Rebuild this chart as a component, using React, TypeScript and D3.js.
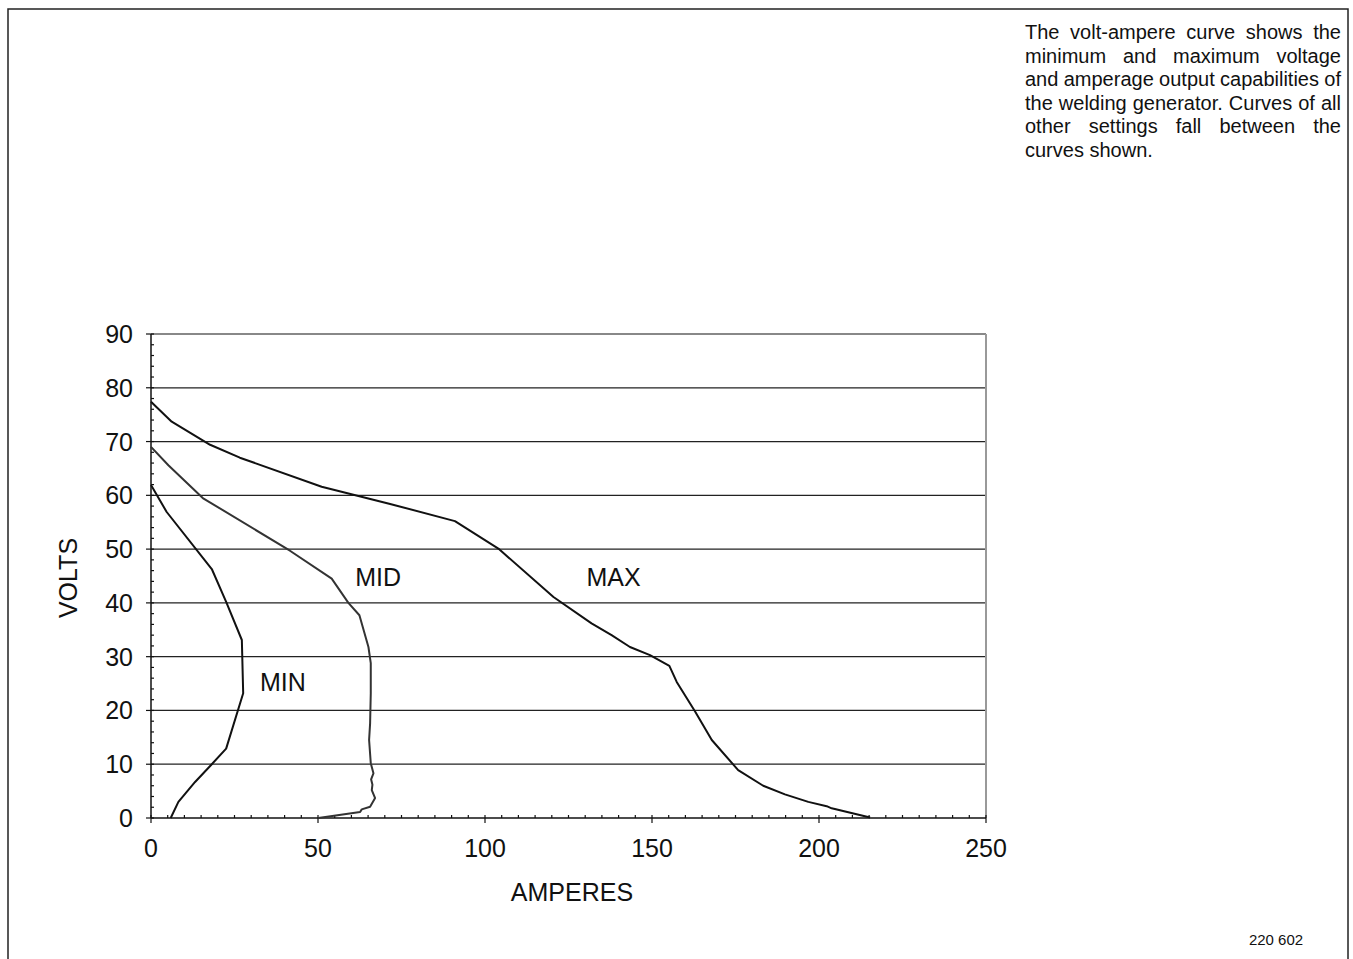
import React, { useMemo } from "react";
import * as d3 from "d3";

type Pt = [number, number];

const maxCurve: Pt[] = [
  [0, 77.4], [6.2, 73.7], [17.7, 69.4], [26.6, 67.0], [51.1, 61.6], [71.6, 58.4],
  [91.0, 55.2], [104.0, 50.1], [120.5, 41.1], [131.9, 36.2], [137.9, 34.0],
  [143.4, 31.8], [149.4, 30.3], [155.2, 28.3], [157.4, 25.3], [162.9, 19.8],
  [167.9, 14.5], [175.8, 8.9], [183.3, 6.0], [189.8, 4.4], [196.8, 3.0],
  [202.3, 2.2], [203.8, 1.8], [215.3, 0.1],
];

const midCurve: Pt[] = [
  [0, 69.0], [5.2, 65.6], [15.5, 59.5], [41.6, 49.7], [54.1, 44.5], [59.1, 40.0],
  [62.4, 37.7], [65.1, 31.8], [65.8, 28.8], [65.8, 23.2], [65.6, 17.6],
  [65.3, 14.5], [65.8, 10.2], [66.6, 8.3], [65.9, 7.2], [66.3, 6.2], [66.1, 5.2],
  [67.1, 3.7], [65.6, 2.1], [63.1, 1.6], [62.6, 1.1], [50.1, 0],
];

const minCurve: Pt[] = [
  [0, 61.9], [4.7, 56.9], [18.2, 46.3], [22.5, 40.2], [27.2, 33.1], [27.6, 23.2],
  [22.5, 12.9], [18.2, 10.0], [13.2, 6.7], [8.2, 3.0], [5.9, 0],
];

const curveLabels = [
  { text: "MIN", amps: 39.5, volts: 25.3 },
  { text: "MID", amps: 68.0, volts: 44.8 },
  { text: "MAX", amps: 138.5, volts: 44.8 },
];

const xTicks = [0, 50, 100, 150, 200, 250];
const yTicks = [0, 10, 20, 30, 40, 50, 60, 70, 80, 90];

const noteLines = [
  "The volt-ampere curve shows the",
  "minimum and maximum voltage",
  "and amperage output capabilities of",
  "the welding generator. Curves of all",
  "other settings fall between the",
  "curves shown.",
];

const FONT = "'Liberation Sans', Arial, Helvetica, sans-serif";

export default function App() {
  const left = 151, right = 986, top = 334, bottom = 818;
  const x = d3.scaleLinear().domain([0, 250]).range([left, right]);
  const y = d3.scaleLinear().domain([0, 90]).range([bottom, top]);
  const line = d3.line<Pt>().x((d) => x(d[0])).y((d) => y(d[1]));

  const minorX = d3.range(0, 251, 5);
  const minorY = d3.range(0, 91, 2);

  const noteFontSize = 20;
  const noteLeft = 1025, noteRight = 1341, noteTop = 39, noteLH = 23.6;
  const LBL = 25;

  const noteWords = useMemo(() => {
    const canvas = document.createElement("canvas");
    const ctx = canvas.getContext("2d")!;
    ctx.font = `${noteFontSize}px 'Liberation Sans'`;
    const out: { w: string; x: number; y: number }[] = [];
    noteLines.forEach((ln, i) => {
      const words = ln.split(" ");
      const widths = words.map((w) => ctx.measureText(w).width);
      const total = widths.reduce((a, b) => a + b, 0);
      const last = i === noteLines.length - 1;
      const gap = last || words.length < 2
        ? ctx.measureText(" ").width
        : (noteRight - noteLeft - total) / (words.length - 1);
      let cx = noteLeft;
      words.forEach((w, j) => {
        out.push({ w, x: cx, y: noteTop + i * noteLH });
        cx += widths[j] + gap;
      });
    });
    return out;
  }, []);

  return (
    <svg
      width={1353}
      height={959}
      style={{ position: "absolute", left: 0, top: 0, background: "#fff" }}
      fontFamily={FONT}
    >
      <rect x={8} y={9} width={1340} height={1000} fill="none" stroke="#222" strokeWidth={1.5} />

      {/* gridlines */}
      {yTicks.filter((t) => t > 0 && t < 90).map((t) => (
        <line key={"g" + t} x1={left} x2={right} y1={y(t)} y2={y(t)} stroke="#222" strokeWidth={1.3} />
      ))}
      {/* plot border top & right */}
      <line x1={left} x2={right} y1={y(90)} y2={y(90)} stroke="#888" strokeWidth={2} />
      <line x1={right} x2={right} y1={y(90)} y2={bottom} stroke="#999" strokeWidth={2} />

      {/* axes */}
      <line x1={left} x2={left} y1={top} y2={bottom} stroke="#111" strokeWidth={1.5} />
      <line x1={left} x2={right} y1={bottom} y2={bottom} stroke="#111" strokeWidth={1.5} />
      {minorY.map((t) => (
        <line key={"my" + t} x1={left} x2={left + 3} y1={y(t)} y2={y(t)} stroke="#111" strokeWidth={1.2} />
      ))}
      {yTicks.map((t) => (
        <line key={"My" + t} x1={left - 5} x2={left} y1={y(t)} y2={y(t)} stroke="#111" strokeWidth={1.2} />
      ))}
      {minorX.map((t) => (
        <line key={"mx" + t} x1={x(t)} x2={x(t)} y1={bottom} y2={bottom - 3} stroke="#111" strokeWidth={1.2} />
      ))}
      {xTicks.map((t) => (
        <line key={"Mx" + t} x1={x(t)} x2={x(t)} y1={bottom} y2={bottom + 5} stroke="#111" strokeWidth={1.2} />
      ))}

      {/* tick labels */}
      {yTicks.map((t) => (
        <text key={"yl" + t} x={133} y={y(t) + 9} textAnchor="end" fontSize={LBL} fill="#111">{t}</text>
      ))}
      {xTicks.map((t) => (
        <text key={"xl" + t} x={x(t)} y={857} textAnchor="middle" fontSize={LBL} fill="#111">{t}</text>
      ))}

      {/* axis titles */}
      <text x={572} y={901} textAnchor="middle" fontSize={LBL} fill="#111">AMPERES</text>
      <text transform="translate(77,578) rotate(-90)" textAnchor="middle" fontSize={LBL} fill="#111">VOLTS</text>

      {/* curves */}
      {[maxCurve, midCurve, minCurve].map((c, i) => (
        <path key={"c" + i} d={line(c) || ""} fill="none" stroke={i === 1 ? "#333" : "#111"} strokeWidth={2} strokeLinejoin="round" />
      ))}

      {curveLabels.map((l) => (
        <text key={l.text} x={x(l.amps)} y={y(l.volts) + 9} textAnchor="middle" fontSize={LBL} fill="#111">{l.text}</text>
      ))}

      {/* note */}
      {noteWords.map((w, i) => (
        <text key={"n" + i} x={w.x} y={w.y} fontSize={noteFontSize} fill="#111">{w.w}</text>
      ))}

      <text x={1276} y={945} textAnchor="middle" fontSize={15} fill="#111">220 602</text>
    </svg>
  );
}
